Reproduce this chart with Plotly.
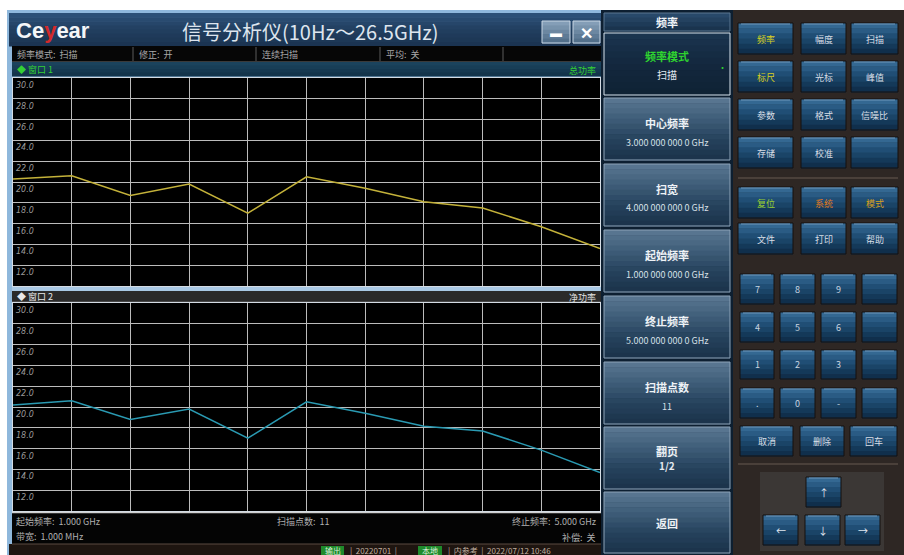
import plotly.graph_objects as go

W, H = 904, 555
CJK = "Noto Sans CJK SC"

# ---- measurement data ----
freq_ghz = [1.0, 1.4, 1.8, 2.2, 2.6, 3.0, 3.4, 3.8, 4.2, 4.6, 5.0]
win1_power = [20.3, 20.6, 18.7, 19.8, 17.0, 20.5, 19.4, 18.1, 17.5, 15.7, 13.6]
win2_power = [20.2, 20.6, 18.8, 19.8, 17.0, 20.5, 19.4, 18.15, 17.7, 15.85, 13.7]
y_ticks = [30, 28, 26, 24, 22, 20, 18, 16, 14, 12]

# ---- instrument texts ----
status_items = ["频率模式:  扫描", "修正:  开", "连续扫描", "平均:  关"]
softkey_titles = ["频率模式", "中心频率", "扫宽", "起始频率", "终止频率", "扫描点数", "翻页", "返回"]
softkey_values = ["扫描", "3.000 000 000 0 GHz", "4.000 000 000 0 GHz", "1.000 000 000 0 GHz",
                  "5.000 000 000 0 GHz", "11", "1/2", ""]
func_keys = [["频率", "幅度", "扫描"], ["标尺", "光标", "峰值"], ["参数", "格式", "信噪比"],
             ["存储", "校准", ""], ["复位", "系统", "模式"], ["文件", "打印", "帮助"]]
func_colors = [["#d8d020", None, None], ["#d8d020", None, None], [None, None, None],
               [None, None, None], ["#9ad030", "#e07a20", "#d8a020"], [None, None, None]]
num_keys = [["7", "8", "9", ""], ["4", "5", "6", ""], ["1", "2", "3", ""], [".", "0", "-", ""]]
edit_keys = ["取消", "删除", "回车"]

shapes, annots = [], []


def fx(x):
    return x / W


def fy(y):
    return 1 - y / H


def rect(x0, y0, x1, y1, fill, line=None, lw=1):
    shapes.append(dict(type="rect", xref="paper", yref="paper", layer="below",
                       x0=fx(x0), x1=fx(x1), y0=fy(y1), y1=fy(y0), fillcolor=fill,
                       line=dict(color=line if line else "rgba(0,0,0,0)", width=lw if line else 0)))


def seg(x0, y0, x1, y1, color, w=1):
    shapes.append(dict(type="line", xref="paper", yref="paper", layer="below",
                       x0=fx(x0), x1=fx(x1), y0=fy(y0), y1=fy(y1), line=dict(color=color, width=w)))


def mix(c1, c2, t):
    a = [int(c1[i:i + 2], 16) for i in (1, 3, 5)]
    b = [int(c2[i:i + 2], 16) for i in (1, 3, 5)]
    return "#" + "".join(f"{round(a[k] + (b[k] - a[k]) * t):02x}" for k in range(3))


def grad(x0, y0, x1, y1, stops, n=10, line=None):
    h = (y1 - y0) / n
    for i in range(n):
        t = (i + 0.5) / n
        seg_pos = t * (len(stops) - 1)
        k = min(int(seg_pos), len(stops) - 2)
        c = mix(stops[k], stops[k + 1], seg_pos - k)
        rect(x0, y0 + i * h, x1, y0 + (i + 1) * h + 0.6, c)
    if line:
        rect(x0, y0, x1, y1, "rgba(0,0,0,0)", line, 1)


def text(x, y, s, size=9, color="#c0c0c0", xa="left", ya="middle", family=CJK):
    annots.append(dict(xref="paper", yref="paper", x=fx(x), y=fy(y), text=s, showarrow=False,
                       xanchor=xa, yanchor=ya, font=dict(family=family, size=size, color=color)))


# ---- window frame and title bar ----
rect(0, 0, W, H, "#ffffff")
rect(7, 10, 604, H, "#8fb8dc")
grad(9, 13, 601, 46, ["#2d527a", "#223f60", "#1a3350"], n=8)
text(14, 30, "<b>Ce<span style='color:#d42a2a'>y</span>ear</b>", size=22, color="#f4f6f8",
     family="Liberation Sans")
text(310, 32, "信号分析仪(10Hz～26.5GHz)", size=20, color="#dde5ee", xa="center")
grad(542, 21, 570, 43, ["#8aa4bc", "#4d6a86"], n=5, line="#c8d6e4")
grad(573, 21, 600, 43, ["#8aa4bc", "#4d6a86"], n=5, line="#c8d6e4")
text(556, 32, "<b>▬</b>", size=12, color="#ffffff", xa="center")
text(586, 32, "<b>✕</b>", size=16, color="#ffffff", xa="center")

# status row
rect(12, 46, 601, 62, "#060606")
for xs in [133, 256, 380, 503]:
    seg(xs, 47, xs, 61, "#5a5a5a")
seg(12, 61.5, 601, 61.5, "#3a3a3a")
for xs, s in zip([15, 137, 260, 384], status_items):
    text(xs, 54, s, size=9, color="#a8a8a8")

# window 1 header
grad(12, 62, 601, 76, ["#1c4560", "#123248"], n=4)
text(15, 69, "◆ 窗口 1", size=9, color="#34d034")
text(598, 70, "总功率", size=9, color="#34d034", xa="right")

# plot areas (black backgrounds)
rect(12, 77, 601, 287, "#000000")
rect(12, 287, 601, 291, "#a8c8e4")
rect(12, 291, 601, 302, "#2a2a2a")
seg(12, 302.3, 601, 302.3, "#c8c8c8")
text(15, 296.5, "◆ 窗口 2", size=9, color="#e8e8e8")
text(598, 297, "净功率", size=9, color="#e0e0e0", xa="right")
rect(12, 302.5, 601, 512, "#000000")

# bottom info panel
rect(12, 512, 601, 544, "#040404")
seg(12, 512.5, 601, 512.5, "#d0d0d0", 1.5)
text(14, 521, "起始频率:  1.000 GHz", size=9, color="#b0b0b0")
text(14, 536, "带宽:  1.000 MHz", size=9, color="#b0b0b0")
text(275, 521, "扫描点数:  11", size=9, color="#b0b0b0")
text(598, 521, "终止频率:  5.000 GHz", size=9, color="#b0b0b0", xa="right")
text(598, 537, "补偿:  关", size=9, color="#b0b0b0", xa="right")

# status bar at the very bottom
rect(9, 544, 604, H, "#1e1510")
seg(12, 544, 601, 544, "#5a4a40")
rect(321, 546, 344, 555, "#1f8a2c")
text(332.5, 550.5, "输出", size=8, color="#d8f0d8", xa="center")
text(348, 550.5, "|  20220701  |", size=8, color="#c0b0a0")
rect(418, 546, 442, 555, "#1f8a2c")
text(430, 550.5, "本地", size=8, color="#d8f0d8", xa="center")
text(446, 550.5, "|  内参考  |  2022/07/12 10:46", size=8, color="#c0b0a0")

# ---- softkey column ----
rect(601, 10, 733, H, "#0d1f31")
grad(604, 13, 730, 31, ["#2b4d6e", "#17304a"], n=4, line="#5a7690")
text(667, 22, "<b>频率</b>", size=11, color="#f0f4f8", xa="center")
key_top = [33, 98, 164, 230, 296, 362, 427, 492]
for i, (t0, title, val) in enumerate(zip(key_top, softkey_titles, softkey_values)):
    b0, b1 = t0, t0 + 62 if i < 7 else H - 2
    if i == 0:
        grad(604, b0, 730, b1, ["#1b3550", "#13283e", "#0f2234"], n=10, line="#d8e4ee")
        text(667, b0 + 23, "<b>" + title + "</b>", size=11, color="#2fd42f", xa="center")
        text(667, b0 + 42, val, size=10, color="#e0e8f0", xa="center")
        text(722, b0 + 34, "•", size=9, color="#2fd42f", xa="center")
    elif i == 6:
        grad(604, b0, 730, b1, ["#5b7893", "#3f5e79", "#26425d", "#1a3249"], n=12, line="#8ea4b8")
        text(667, b0 + 24, "<b>" + title + "</b>", size=11, color="#eef2f6", xa="center")
        text(667, b0 + 38, "<b>" + val + "</b>", size=10, color="#e4eaf0", xa="center")
    else:
        grad(604, b0, 730, b1, ["#5b7893", "#3f5e79", "#26425d", "#1a3249"], n=12, line="#8ea4b8")
        if val:
            text(667, b0 + 25, "<b>" + title + "</b>", size=11, color="#eef2f6", xa="center")
            text(667, b0 + 44, val, size=9, color="#d8e0e8", xa="center")
        else:
            text(667, b0 + 31, "<b>" + title + "</b>", size=11, color="#eef2f6", xa="center")

# ---- hard key panel ----
rect(733, 10, W, H, "#2e2724")
key_stops = ["#3a6f9a", "#24547c", "#163e60", "#0e2a45"]
col_x = [(738, 793), (801, 846), (851, 898)]
row_y = [(23, 54), (61, 92), (99, 130), (137, 168), (187, 218), (223, 254)]
seg(738, 178, 898, 178, "#4a403a", 2)
for r, (y0, y1) in enumerate(row_y):
    for c, (x0, x1) in enumerate(col_x):
        grad(x0, y0, x1, y1, key_stops, n=6, line="#15110f")
        seg(x0 + 3, y0 + 1, x1 - 3, y0 + 1, "#6e98bc")
        lab = func_keys[r][c]
        if lab:
            text((x0 + x1) / 2, (y0 + y1) / 2 + 1, lab, size=9,
                 color=func_colors[r][c] or "#d8dfe6", xa="center")

num_cols = [(740, 774), (780, 815), (821, 856), (862, 897)]
num_rows = [(274, 304), (312, 342), (350, 379), (388, 418)]
for r, (y0, y1) in enumerate(num_rows):
    for c, (x0, x1) in enumerate(num_cols):
        grad(x0, y0, x1, y1, key_stops, n=6, line="#15110f")
        seg(x0 + 3, y0 + 1, x1 - 3, y0 + 1, "#6e98bc")
        if num_keys[r][c]:
            text((x0 + x1) / 2, (y0 + y1) / 2, num_keys[r][c], size=9, color="#c8d4e0", xa="center")
for (x0, x1), lab in zip([(740, 793), (800, 844), (850, 897)], edit_keys):
    grad(x0, 426, x1, 456, key_stops, n=6, line="#15110f")
    seg(x0 + 3, 427, x1 - 3, 427, "#6e98bc")
    text((x0 + x1) / 2, 441, lab, size=9, color="#d8dfe6", xa="center")

seg(738, 464, 898, 464, "#4a403a", 2)
rect(760, 472, 884, 551, "#3b3735")
arrow_keys = [((806, 477, 841, 507), "↑"), ((763, 515, 798, 545), "←"),
              ((805, 515, 840, 545), "↓"), ((845, 515, 880, 545), "→")]
for (x0, y0, x1, y1), lab in arrow_keys:
    grad(x0, y0, x1, y1, key_stops, n=6, line="#15110f")
    seg(x0 + 3, y0 + 1, x1 - 3, y0 + 1, "#6e98bc")
    text((x0 + x1) / 2, (y0 + y1) / 2, lab, size=10, color="#e0e8f0", xa="center")

# ---- y tick labels inside each trace window ----
for ax in ("", "2"):
    for v in y_ticks:
        annots.append(dict(xref="x" + ax, yref="y" + ax, x=1.0, y=v, text=f"<i>{v:.1f}</i>",
                           showarrow=False, xanchor="left", yanchor="top", xshift=1, yshift=-1,
                           font=dict(family="DejaVu Sans", size=8, color="#9a9a9a")))

fig = go.Figure()
fig.add_trace(go.Scatter(x=freq_ghz, y=win1_power, mode="lines", xaxis="x", yaxis="y",
                         line=dict(color="#c4b23a", width=1.5), hoverinfo="skip"))
fig.add_trace(go.Scatter(x=freq_ghz, y=win2_power, mode="lines", xaxis="x2", yaxis="y2",
                         line=dict(color="#2a9ab2", width=1.5), hoverinfo="skip"))

xcommon = dict(range=[1, 5], tick0=1, dtick=0.4, showgrid=True, gridcolor="#bcbcbc", gridwidth=1,
               showticklabels=False, ticks="", zeroline=False, showline=True, mirror=True,
               linecolor="#d4dce4", linewidth=1, fixedrange=True)
ycommon = dict(range=[10, 30], tick0=10, dtick=2, showgrid=True, gridcolor="#bcbcbc", gridwidth=1,
               showticklabels=False, ticks="", zeroline=False, showline=True, mirror=True,
               linecolor="#d4dce4", linewidth=1, fixedrange=True)

fig.update_layout(
    width=W, height=H, margin=dict(l=0, r=0, t=0, b=0), autosize=False,
    paper_bgcolor="#ffffff", plot_bgcolor="rgba(0,0,0,0)", showlegend=False,
    xaxis=dict(domain=[fx(13), fx(600)], anchor="y", **xcommon),
    yaxis=dict(domain=[fy(286), fy(78)], anchor="x", **ycommon),
    xaxis2=dict(domain=[fx(13), fx(600)], anchor="y2", **xcommon),
    yaxis2=dict(domain=[fy(511), fy(303)], anchor="x2", **ycommon),
    shapes=shapes, annotations=annots,
)

fig.write_html("out.html", config={"displayModeBar": False})
